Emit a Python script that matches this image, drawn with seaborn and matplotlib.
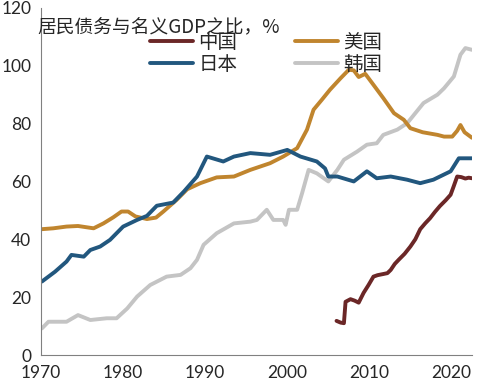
import pandas as pd
import matplotlib.pyplot as plt
import seaborn as sns

# 中国
cn_year = [2006.0, 2006.5, 2006.9, 2007.1, 2007.7, 2008.2, 2008.7, 2009.3, 2009.9, 2010.5, 2011.0, 2011.7,
           2012.2, 2012.6, 2013.1, 2013.6, 2014.3, 2015.0, 2015.6, 2016.2, 2016.8, 2017.4, 2018.0, 2018.6,
           2019.3, 2019.9, 2020.3, 2020.7, 2021.2, 2021.7, 2022.1, 2022.5]
cn_val = [11.8, 11.2, 11.0, 18.4, 19.3, 18.8, 18.1, 21.5, 24.2, 27.1, 27.6, 28.0,
          28.3, 29.4, 31.5, 33.0, 35.0, 37.5, 40.0, 43.5, 45.5, 47.3, 49.5, 51.5,
          53.5, 55.4, 58.5, 61.7, 61.5, 61.0, 61.3, 61.1]

# 美国
us_year = [1970.1, 1971.5, 1973.1, 1974.5, 1976.4, 1977.6, 1978.8, 1979.8, 1980.6, 1981.5, 1982.9, 1984.0,
           1984.9, 1986.5, 1987.8, 1989.4, 1991.4, 1993.5, 1995.5, 1997.9, 1999.5, 2001.2, 2002.4, 2003.2,
           2004.2, 2005.2, 2006.5, 2007.5, 2008.1, 2008.7, 2009.5, 2010.5, 2011.7, 2013.0, 2014.2, 2015.0,
           2016.5, 2018.3, 2019.1, 2020.1, 2020.7, 2021.1, 2021.6, 2022.5]
us_val = [43.5, 43.8, 44.4, 44.6, 43.8, 45.5, 47.6, 49.6, 49.6, 47.9, 47.0, 47.5,
          49.6, 53.6, 57.3, 59.4, 61.4, 61.7, 64.0, 66.3, 68.6, 71.5, 77.9, 84.8,
          88.2, 91.7, 95.7, 98.6, 98.4, 96.1, 97.2, 93.4, 88.8, 83.6, 81.3, 78.4,
          77.0, 76.1, 75.5, 75.5, 77.5, 79.5, 77.0, 75.1]

# 日本
jp_year = [1970.1, 1971.7, 1973.1, 1973.7, 1975.2, 1976.0, 1977.2, 1978.4, 1980.0, 1981.7, 1982.9, 1984.1,
           1986.1, 1987.4, 1989.0, 1990.2, 1992.2, 1993.5, 1995.5, 1997.9, 2000.0, 2001.6, 2003.6, 2004.6,
           2005.0, 2006.1, 2008.1, 2009.7, 2010.9, 2012.6, 2014.6, 2016.2, 2017.8, 2019.9, 2020.9, 2022.5]
jp_val = [25.4, 28.8, 32.3, 34.6, 34.0, 36.3, 37.5, 39.8, 44.4, 46.7, 48.1, 51.6,
          52.7, 56.5, 61.7, 68.6, 66.9, 68.6, 69.8, 69.2, 70.9, 68.6, 66.9, 64.5,
          61.7, 61.7, 60.0, 63.5, 61.1, 61.7, 60.6, 59.4, 60.6, 63.5, 68.0, 68.0]

# 韩国
kr_year = [1970.1, 1970.9, 1973.1, 1974.5, 1976.0, 1978.0, 1979.2, 1980.5, 1981.7, 1983.3, 1985.3, 1987.0,
           1988.2, 1989.0, 1989.8, 1991.4, 1993.5, 1995.5, 1996.3, 1997.5, 1998.3, 1999.5, 1999.8, 2000.2,
           2001.2, 2001.8, 2002.6, 2003.6, 2005.0, 2006.1, 2006.9, 2008.5, 2009.7, 2010.9, 2011.7, 2013.4,
           2014.6, 2016.6, 2018.3, 2019.1, 2020.3, 2021.1, 2021.7, 2022.5]
kr_val = [9.2, 11.5, 11.5, 13.8, 12.1, 12.7, 12.7, 16.1, 20.2, 24.2, 27.1, 27.7,
          30.0, 32.9, 38.1, 42.1, 45.5, 46.1, 46.7, 50.2, 46.7, 46.7, 45.0, 50.2,
          50.2, 55.9, 64.0, 62.8, 60.0, 64.0, 67.5, 70.3, 72.7, 73.2, 76.1, 77.9,
          80.1, 87.1, 90.0, 92.2, 96.3, 103.8, 106.1, 105.5]

names = ['中国', '日本', '美国', '韩国']
colors = ['#6B2727', '#22577E', '#C0852E', '#C4C4C4']

df = pd.concat([
    pd.DataFrame({'year': cn_year, 'value': cn_val, 'country': '中国'}),
    pd.DataFrame({'year': jp_year, 'value': jp_val, 'country': '日本'}),
    pd.DataFrame({'year': us_year, 'value': us_val, 'country': '美国'}),
    pd.DataFrame({'year': kr_year, 'value': kr_val, 'country': '韩国'}),
])

sns.set_style('white')
plt.rcParams['font.family'] = ['Lato', 'Noto Sans CJK SC', 'DejaVu Sans']

fig = plt.figure(figsize=(5.01, 3.84), dpi=100)
ax = fig.add_axes([0.082, 0.0755, 0.86, 0.904])

# 韩国 drawn first so it sits under the others
order = ['韩国', '美国', '日本', '中国']
for c in order:
    sub = df[df['country'] == c]
    sns.lineplot(data=sub, x='year', y='value', ax=ax, color=colors[names.index(c)],
                 lw=2.8, label=c, sort=False)

handles, labels = ax.get_legend_handles_labels()
hd = dict(zip(labels, handles))
ax.legend([hd[n] for n in names], names, ncol=2, frameon=False,
          loc='upper left', bbox_to_anchor=(0.2535, 0.93), borderpad=0, borderaxespad=0,
          handlelength=2.2, handletextpad=0.26, columnspacing=3.0, labelspacing=0.05,
          prop={'family': ['Noto Sans CJK SC'], 'size': 14})

ax.text(-0.008, 0.972, '居民债务与名义GDP之比，%', transform=ax.transAxes, ha='left', va='top',
        fontsize=13.5, family=['Noto Sans CJK SC', 'DejaVu Sans'])

ax.set_xlim(1970, 2022.5)
ax.set_ylim(0, 120)
ax.set_xticks([1970, 1980, 1990, 2000, 2010, 2020])
ax.set_yticks([0, 20, 40, 60, 80, 100, 120])
ax.set_xlabel('')
ax.set_ylabel('')
ax.tick_params(axis='both', direction='in', length=4, width=0.8, color='#808080', labelsize=12.5)
ax.tick_params(axis='x', pad=7)
ax.tick_params(axis='y', pad=7)
sns.despine(ax=ax)
for s in ['left', 'bottom']:
    ax.spines[s].set_color('#808080')
    ax.spines[s].set_linewidth(0.8)

plt.savefig('out.png', dpi=100)
